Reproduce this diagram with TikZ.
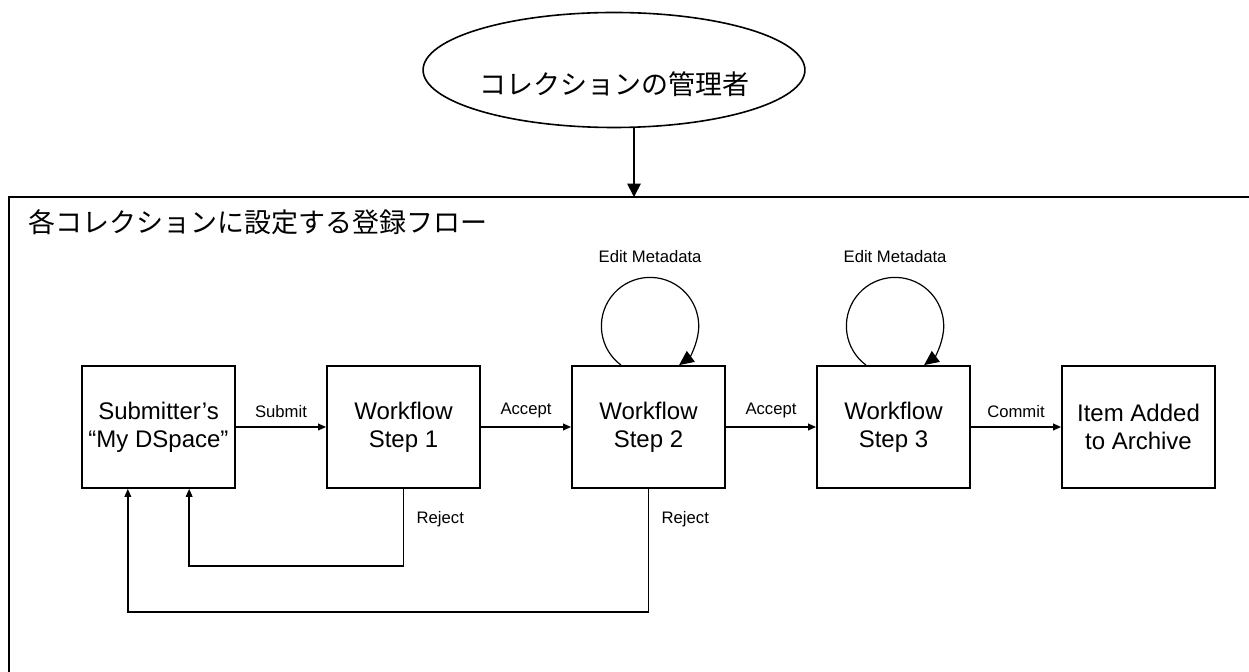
\documentclass[tikz,border=0pt]{standalone}
\usepackage{fontspec}
\setmainfont{Liberation Sans}
\newfontfamily\jpfont{Noto Sans CJK JP}
\usetikzlibrary{arrows.meta,shapes.geometric}

\tikzset{
  stepbox/.style={draw, line width=1.3pt, minimum width=114.75pt, minimum height=91.5pt,
    inner sep=0pt, align=center, font=\fontsize{18}{21}\selectfont},
  actor/.style={draw, ellipse, line width=1.2pt, minimum width=253.5pt, minimum height=86.25pt,
    inner sep=0pt, font=\jpfont\fontsize{20.25}{24}\selectfont, text height=38.5pt, text depth=2pt},
  flowline/.style={line width=1.1pt, -{Triangle[length=6pt,width=5pt]}},
  loopline/.style={line width=0.9pt, -{Triangle[length=11pt,width=10pt]}},
  lbl/.style={font=\fontsize{12.5}{15}\selectfont},
}

\begin{document}
\begin{tikzpicture}[x=0.75pt, y=0.75pt]
  \useasboundingbox (0,0) rectangle (1249,671);
  \clip (0,0) rectangle (1249,671);

  % collection administrator
  \node[actor] (admin) at (614,601) {コレクションの管理者};

  % workflow frame
  \coordinate (drop) at (634,474);
  \draw[line width=1.5pt] (9,-20) rectangle (1270,474);
  \node[anchor=west, inner sep=0pt, font=\jpfont\fontsize{20.25}{24}\selectfont] (title) at (28,449) {各コレクションに設定する登録フロー};
  \draw[line width=1.4pt, -{Triangle[length=10pt,width=10pt]}] (admin.south -| drop) -- (drop);

  % steps
  \node[stepbox] (sub) at (158.5,244) {Submitter’s\\“My DSpace”};
  \node[stepbox] (wf1) at (403.5,244) {Workflow\\Step 1};
  \node[stepbox] (wf2) at (648.5,244) {Workflow\\Step 2};
  \node[stepbox] (wf3) at (893.5,244) {Workflow\\Step 3};
  \node[stepbox] (item) at (1138.5,244) {Item Added\\to Archive};

  \path[flowline] (sub) edge node[lbl, above=3pt] {Submit} (wf1)
                  (wf1) edge node[lbl, above=3pt] {Accept} (wf2)
                  (wf2) edge node[lbl, above=3pt] {Accept} (wf3)
                  (wf3) edge node[lbl, above=3pt] {Commit} (item);

  % edit loops
  \draw[loopline] ([xshift=-20.6pt]wf2.north) arc[start angle=233.4, end angle=-53.4, radius=36.5pt]
    node[lbl, pos=0.5, above=7pt] {Edit Metadata};
  \draw[loopline] ([xshift=-20.6pt]wf3.north) arc[start angle=233.4, end angle=-53.4, radius=36.5pt]
    node[lbl, pos=0.5, above=7pt] {Edit Metadata};

  % rejections
  \draw[flowline] (wf1.south) -- node[lbl, right=6pt, pos=0.4] {Reject} ++(0,-77) -| ([xshift=23pt]sub.south);
  \draw[flowline] (wf2.south) -- node[lbl, right=6pt, pos=0.25] {Reject} ++(0,-123) -| ([xshift=-23pt]sub.south);
\end{tikzpicture}
\end{document}
